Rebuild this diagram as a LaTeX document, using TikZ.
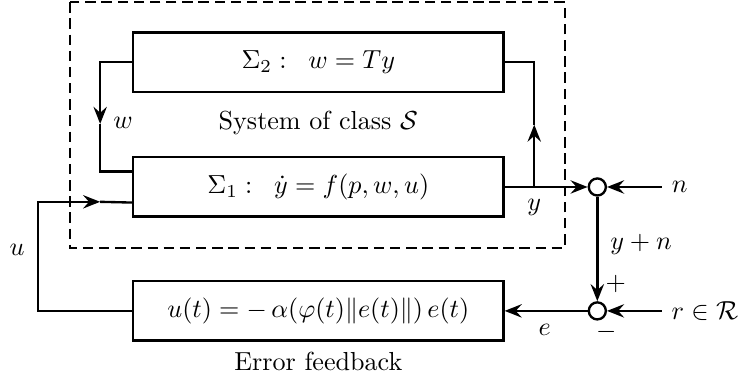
\documentclass[tikz,border=0pt]{standalone}
\usepackage{amsmath, amssymb}
\usepackage{xcolor}
\usepackage{tikz}
\usetikzlibrary{arrows.meta}

\tikzset{
  block/.style={draw, line width=0.9pt, minimum width=4.99cm, minimum height=0.8cm},
  sumpt/.style={draw, line width=0.9pt, circle, minimum size=0.23cm, inner sep=0pt},
  sysbox/.style={line width=0.9pt, dash pattern=on 4pt off 2.2pt}
}

\begin{document}
\begin{tikzpicture}[>={Stealth[length=2.3mm, width=1.8mm, inset=0.8mm]}, line width=0.9pt]
        \useasboundingbox (0,0) rectangle (10,-5.108);

        % the system of class S
        \draw[sysbox] (0.94,-0.03) rectangle (7.61,-3.34);
        \node[block] (sys2) at (4.29,-0.84) {$\Sigma_2:\;\; w = Ty$};
        \node[block] (sys1) at (4.29,-2.52) {$\Sigma_1:\;\; \dot{y} = f(p,w,u)$};
        \node (cls) at (4.29,-1.66) {System of class $\mathcal{S}$};

        % error feedback
        \node[block] (fb) at (4.29,-4.19) {$u(t) = -\,\alpha(\varphi(t)\|e(t)\|)\,e(t)$};
        \node (fbtxt) at (4.29,-4.87) {Error feedback};

        % summing points and inputs
        \node[sumpt] (sumn) at (8.05,-2.52) {};
        \node[sumpt] (sumr) at (8.05,-4.19) {};
        \node (nin) at (9.16,-2.52) {$n$};
        \node (rin) at (9.50,-4.19) {$r \in \mathcal{R}$};

        \coordinate (wtip) at (1.35,-1.67);
        \coordinate (ubend) at (0.51,-2.72);
        \coordinate (utip) at (1.35,-2.72);
        \coordinate (ytap) at (7.20,-2.52);
        \coordinate (ytip) at (7.20,-1.68);

        \draw[->] (sys2.west) -| (wtip);
        \draw (wtip) |- ([yshift=0.21cm]sys1.west);
        \draw[->] (fb.west) -| (ubend) -- (utip);
        \draw (utip) -- ([yshift=-0.21cm]sys1.west);
        \draw[->] (sys1.east) -- (sumn);
        \draw[->] (ytap) -- (ytip);
        \draw (ytip) |- (sys2.east);
        \draw[->] (nin) -- (sumn);
        \draw[->] (sumn) -- (sumr);
        \draw[->] (rin) -- (sumr);
        \draw[->] (sumr) -- (fb);

        % signal labels
        \node (lw) at (1.66,-1.66) {$w$};
        \node (lu) at (0.23,-3.37) {$u$};
        \node (ly) at (7.20,-2.79) {$y$};
        \node (lyn) at (8.64,-3.30) {$y+n$};
        \node (lplus) at (8.30,-3.83) {$+$};
        \node (lminus) at (8.17,-4.47) {$-$};
        \node (le) at (7.34,-4.45) {$e$};
\end{tikzpicture}
\end{document}
